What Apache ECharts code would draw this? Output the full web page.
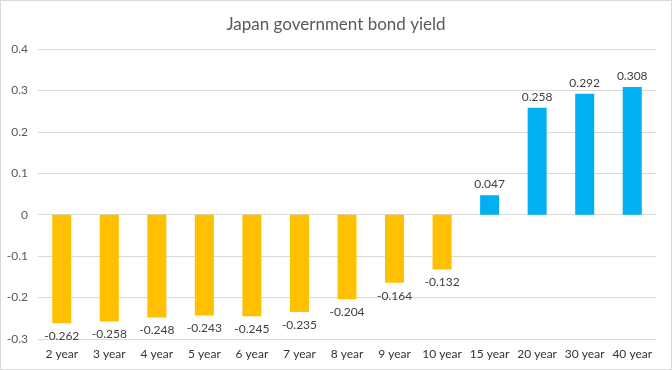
<!DOCTYPE html>
<html><head><meta charset="utf-8">
<script src="https://cdn.jsdelivr.net/npm/echarts@6/dist/echarts.min.js"></script>
<style>html,body{margin:0;padding:0;background:#fff}#c{width:672px;height:370px;box-sizing:border-box;border:1px solid #d9d9d9}</style>
</head><body><div id="c"></div>
<script>
const categories = ['2 year','3 year','4 year','5 year','6 year','7 year','8 year','9 year','10 year','15 year','20 year','30 year','40 year'];
const yields = [-0.262,-0.258,-0.248,-0.243,-0.245,-0.235,-0.204,-0.164,-0.132,0.047,0.258,0.292,0.308];
const yTicks = [-0.3,-0.2,-0.1,0,0.1,0.2,0.3,0.4];
const chart = echarts.init(document.getElementById('c'));
const font = 'Lato, "Open Sans", sans-serif';
chart.setOption({
  animation:false,
  title:{text:'Japan government bond yield',left:'center',top:10,textStyle:{fontFamily:font,fontSize:17,fontWeight:'normal',color:'#595959'}},
  grid:{left:37,right:15,top:48,bottom:30,containLabel:false},
  xAxis:{type:'category',data:categories,position:'bottom',offset:0,
    axisLine:{show:false},axisTick:{show:false},
    axisLabel:{fontFamily:font,fontSize:12,color:'#333333',margin:9,interval:0}},
  yAxis:{type:'value',min:-0.3,max:0.4,interval:0.1,
    axisLabel:{fontFamily:font,fontSize:12,color:'#595959',margin:10,formatter:v=>{const r=Math.round(v*10)/10;return String(r);}},
    splitLine:{lineStyle:{color:'#d9d9d9',width:1}},axisLine:{show:false},axisTick:{show:false}},
  series:[{type:'bar',barWidth:'40%',
    data:yields.map(v=>({value:v,itemStyle:{color:v<0?'#FFC000':'#00B0F0'},
      label:{show:true,position:v<0?'bottom':'top',distance:v<0?7:5,formatter:String(v),fontFamily:font,fontSize:12,color:'#404040'}}))}]
});
</script></body></html>
